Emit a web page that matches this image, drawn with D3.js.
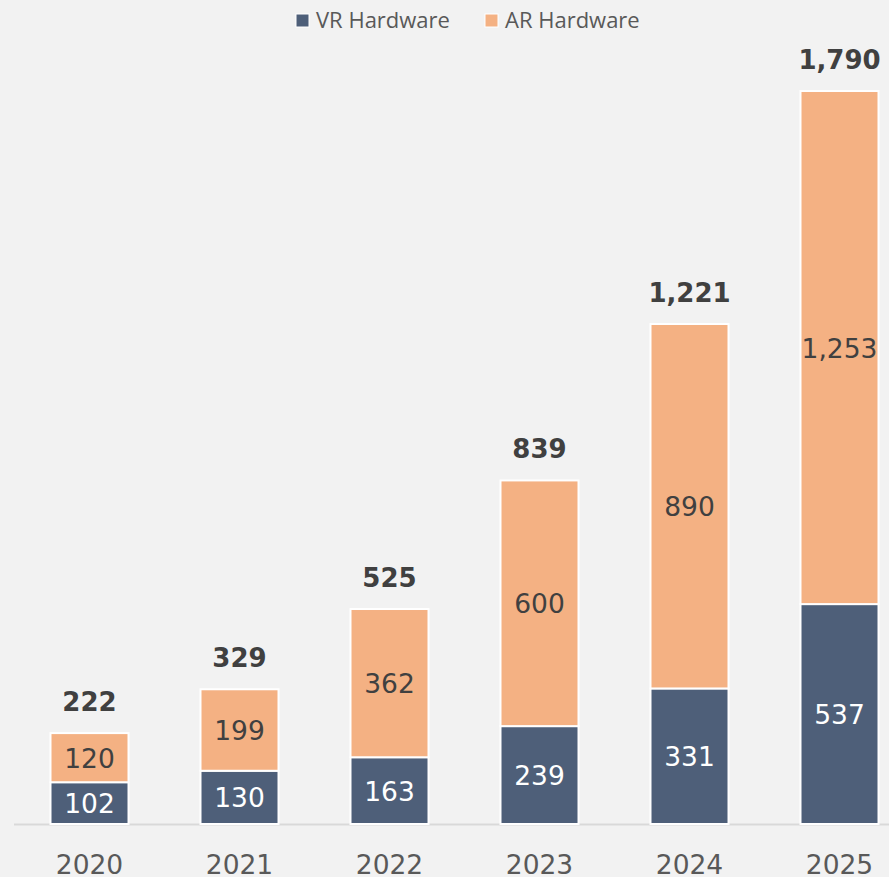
<!DOCTYPE html>
<html lang="en">
<head>
  <meta charset="UTF-8">
  <title>VR / AR Hardware</title>
  <script src="https://d3js.org/d3.v7.min.js"></script>
  <style>
    html, body {
      margin: 0;
      padding: 0;
      overflow: hidden;
      background: #f2f2f2;
    }
    svg {
      display: block;
    }
  </style>
</head>
<body>
  <svg width="889" height="877"></svg>

  <script>
    // data
    const years = ["2020", "2021", "2022", "2023", "2024", "2025"];
    const vrValues = [102, 130, 163, 239, 331, 537];
    const arValues = [120, 199, 362, 600, 890, 1253];
    const seriesNames = ["VR Hardware", "AR Hardware"];
    const seriesColors = ["#4e5f79", "#f4b183"];

    const width = 889;
    const height = 877;
    const svg = d3.select("svg");

    const rows = years.map((y, i) => ({ year: y, vr: vrValues[i], ar: arValues[i], total: vrValues[i] + arValues[i] }));
    const stack = d3.stack().keys(["vr", "ar"])(rows);

    const x = d3.scaleBand()
      .domain(years)
      .range([14.5, 914.5])
      .paddingInner(0.48)
      .paddingOuter(0.24);

    const y = d3.scaleLinear()
      .domain([0, 1790])
      .range([824, 91]);

    const numFmt = d3.format(",");
    const labelFont = "'DejaVu Sans', Verdana, sans-serif";

    // axis baseline
    const xAxis = d3.axisBottom(x).tickSize(0).tickPadding(0);
    const axisG = svg.append("g")
      .attr("transform", `translate(0,${y(0)})`)
      .call(xAxis);
    axisG.select(".domain")
      .attr("d", `M14,0.5H${width}`)
      .attr("stroke", "#d9d9d9")
      .attr("stroke-width", 2);
    axisG.selectAll(".tick text")
      .attr("y", 50)
      .attr("dy", 0)
      .attr("fill", "#595959")
      .style("font-family", labelFont)
      .style("font-size", "26.5px");

    // stacked bars
    const layer = svg.append("g")
      .selectAll("g")
      .data(stack)
      .enter().append("g")
      .attr("fill", (d, i) => seriesColors[i]);

    layer.selectAll("rect")
      .data(d => d)
      .enter().append("rect")
      .attr("x", d => x(d.data.year))
      .attr("y", d => y(d[1]))
      .attr("width", x.bandwidth())
      .attr("height", d => y(d[0]) - y(d[1]))
      .attr("stroke", "#ffffff")
      .attr("stroke-width", 2);

    // segment labels
    layer.each(function (s, i) {
      d3.select(this).selectAll("text")
        .data(s)
        .enter().append("text")
        .attr("x", d => x(d.data.year) + x.bandwidth() / 2)
        .attr("y", d => (y(d[0]) + y(d[1])) / 2)
        .attr("dy", "0.38em")
        .attr("text-anchor", "middle")
        .attr("fill", i === 0 ? "#ffffff" : "#404040")
        .style("font-family", labelFont)
        .style("font-size", "26.5px")
        .text(d => numFmt(d[1] - d[0]));
    });

    // totals
    svg.append("g")
      .selectAll("text")
      .data(rows)
      .enter().append("text")
      .attr("x", d => x(d.year) + x.bandwidth() / 2)
      .attr("y", d => y(d.total) - 22)
      .attr("text-anchor", "middle")
      .attr("fill", "#404040")
      .style("font-family", labelFont)
      .style("font-size", "26px")
      .style("font-weight", "bold")
      .text(d => numFmt(d.total));

    // legend
    const legendX = [296, 485];
    const legend = svg.append("g")
      .selectAll("g")
      .data(seriesNames)
      .enter().append("g")
      .attr("transform", (d, i) => `translate(${legendX[i]},0)`);
    legend.append("rect")
      .attr("x", 0)
      .attr("y", 14)
      .attr("width", 13)
      .attr("height", 13)
      .attr("fill", (d, i) => seriesColors[i])
      .attr("stroke", "#ffffff")
      .attr("stroke-width", 1);
    legend.append("text")
      .attr("x", 20)
      .attr("y", 28)
      .attr("fill", "#595959")
      .style("font-family", "'Open Sans', 'Noto Sans', sans-serif")
      .style("font-size", "22px")
      .text(d => d);
  </script>
</body>
</html>
